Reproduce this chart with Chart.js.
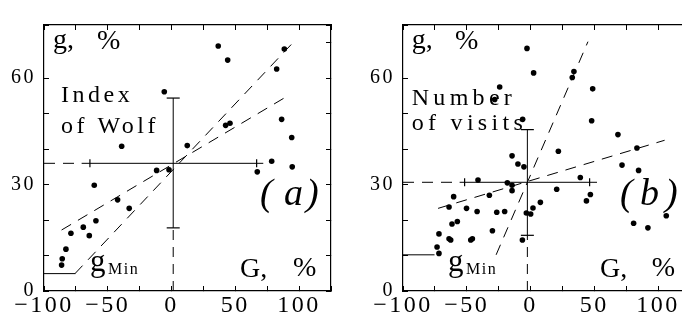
<!DOCTYPE html>
<html><head><meta charset="utf-8">
<script src="https://cdn.jsdelivr.net/npm/chart.js@4.4.1/dist/chart.umd.min.js"></script>
<style>
html,body{margin:0;padding:0;background:#fff;overflow:hidden;width:682px;height:324px;}
#wrap{position:relative;width:682px;height:324px;overflow:hidden;background:#fff;}
canvas{position:absolute;top:0;}
#ca{left:0;} #cb{left:359px;}
</style></head><body>
<div id="wrap"><canvas id="ca" width="340" height="324"></canvas><canvas id="cb" width="340" height="324"></canvas></div>
<script>
// ---- axes ----
const xRange = [-100, 125];
const yRange = [0, 75];
const xTickStep = 25;
const yTickStep = 10;
const xLabelValues = [-100, -50, 0, 50, 100];
const yLabelValues = [0, 30, 60];

// ---- panel (a): Index of Wolf ----
const wolfG = [36.6,44.0,88.4,82.4,-5.7,86.3,42.4,45.8,94.2,-39.1,12.3,78.5,94.6,-11.7,-2.0,67.2,-60.6,-42.3,-33.2,-59.3,-69.2,-78.9,-64.5,-82.8,-85.7,-86.2];
const wolfg = [69.1,65.1,68.2,62.6,56.2,48.4,46.7,47.3,43.3,40.8,41.0,36.6,35.0,34.0,34.2,33.6,29.8,25.7,23.3,19.8,18.0,16.3,15.6,11.8,9.1,7.3];
const wolfSteepG = [-75.7, 96.7];
const wolfSteepg = [4.9, 70.6];
const wolfShallowG = [-86.2, 91.5];
const wolfShallowg = [17.2, 55.1];
const wolfMeanG = 1.3;
const wolfMeang = 36.0;
const wolfSpreadG = [-70.5, 71.9];
const wolfCapsG = [-64.0, 66.7];
const wolfSpreadg = [17.8, 54.4];
const wolfgMin = 4.9;

// ---- panel (b): Number of visits ----
const visitsG = [-2.8,2.4,34.0,32.7,-24.2,-28.1,48.7,-6.2,47.9,68.5,83.4,21.8,-14.5,-9.9,-5.2,71.7,84.7,-41.2,-18.2,-14.5,-14.5,39.0,-60.3,-32.3,20.5,46.9,43.8,7.7,-63.9,-50.2,-41.9,-26.5,-20.3,1.9,-3.3,0.1,-57.4,-61.6,-29.9,-71.8,-63.9,-62.6,-45.6,-46.9,-6.4,-73.3,-71.8,80.8,92.0,106.4];
const visitsg = [68.4,61.5,61.9,60.2,57.5,54.0,57.0,48.4,48.0,44.1,40.3,39.4,38.1,35.8,35.0,35.5,34.0,31.3,30.5,29.8,28.3,32.0,26.6,27.0,28.7,27.2,25.4,25.0,23.7,23.3,22.4,22.2,22.4,23.4,22.0,21.7,19.6,18.9,17.0,16.1,14.7,14.4,14.7,14.4,14.4,12.4,10.6,19.1,17.8,21.2];
const visitsSteepG = [-27.0, 45.0];
const visitsSteepg = [10.2, 70.3];
const visitsShallowG = [-72.5, 105.1];
const visitsShallowg = [23.3, 42.5];
const visitsMeanG = -2.5;
const visitsMeang = 30.65;
const visitsSpreadG = [-55.6, 52.1];
const visitsCapsG = [-51.7, 46.3];
const visitsSpreadg = [15.7, 45.5];
const visitsgMin = 10.2;
const gMinEndG = -75.3;

const SERIF = "'Liberation Serif', 'Times New Roman', serif";
const fmt = v => (v < 0 ? '\u2212' + Math.abs(v) : String(v));

const annotPlugin = {
  id: 'annot',
  beforeDraw(chart) { chart.ctx.letterSpacing = '2.5px'; },
  afterDraw(chart, args, opts) {
    const ctx = chart.ctx;
    ctx.save();
    ctx.fillStyle = '#000';
    ctx.textAlign = 'left';
    ctx.textBaseline = 'alphabetic';
    for (const it of (opts.items || [])) {
      ctx.font = it.font;
      ctx.letterSpacing = it.ls || '0px';
      ctx.fillText(it.t, it.x, it.y);
    }
    ctx.restore();
  }
};

function pts(xs, ys) { return xs.map((x, i) => ({x, y: ys[i]})); }

function lineDs(data, dash) {
  return { data, showLine: true, borderColor: '#000', borderWidth: 1, borderDash: dash || [],
           pointRadius: 0, fill: false };
}

function makePanel(id, G, g, steepG, steepg, shalG, shalg, meanG, meang, spreadG, capsG, spreadg, gMin, texts) {
  const datasets = [
    { data: pts(G, g), pointRadius: 2.8, pointBackgroundColor: '#000', pointBorderWidth: 0, showLine: false },
    lineDs(pts(steepG, steepg), [11, 8]),
    lineDs(pts(shalG, shalg), [11, 8]),
    lineDs([{x: xRange[0], y: meang}, {x: spreadG[0], y: meang}], [11, 8]),
    lineDs([{x: spreadG[0], y: meang}, {x: spreadG[1], y: meang}]),
    lineDs([{x: meanG, y: spreadg[0]}, {x: meanG, y: spreadg[1]}]),
    lineDs([{x: meanG, y: yRange[0]}, {x: meanG, y: spreadg[0]}], [10, 7]),
    lineDs([{x: xRange[0], y: gMin}, {x: gMinEndG, y: gMin}]),
    { data: spreadg.map(v => ({x: meanG, y: v})), showLine: false, pointStyle: 'line', pointRadius: 6.5,
      pointBorderColor: '#000', pointBorderWidth: 1.2 },
    { data: capsG.map(v => ({x: v, y: meang})), showLine: false, pointStyle: 'line', pointRadius: 4,
      pointRotation: 90, pointBorderColor: '#000', pointBorderWidth: 1.2 }
  ];
  const gridOpts = { drawOnChartArea: false, drawTicks: true, tickLength: -5, color: '#000', lineWidth: 1 };
  const borderOpts = { display: true, color: '#000', width: 1.2 };
  return new Chart(document.getElementById(id), {
    type: 'scatter',
    data: { datasets },
    plugins: [annotPlugin],
    options: {
      responsive: false, animation: false, devicePixelRatio: 1, events: [],
      layout: { padding: { top: 4, right: 9, left: 0, bottom: 0 } },
      plugins: { legend: { display: false }, tooltip: { enabled: false }, annot: { items: texts } },
      scales: {
        x: { type: 'linear', position: 'bottom', min: xRange[0], max: xRange[1],
             ticks: { stepSize: xTickStep, autoSkip: false, maxRotation: 0, padding: 5, color: '#000',
                      font: { family: SERIF, size: 24 },
                      callback: v => xLabelValues.includes(v) ? fmt(v) : '' },
             grid: gridOpts, border: borderOpts, afterFit: s => { s.height = 33; } },
        y: { type: 'linear', position: 'left', min: yRange[0], max: yRange[1],
             ticks: { stepSize: yTickStep, autoSkip: false, padding: 13, color: '#000',
                      font: { family: SERIF, size: 20 },
                      callback: v => yLabelValues.includes(v) ? fmt(v) : '' },
             grid: gridOpts, border: borderOpts, afterFit: s => { s.width = 44; } },
        x2: { type: 'linear', axis: 'x', position: 'top', min: xRange[0], max: xRange[1],
              ticks: { stepSize: xTickStep, display: false },
              grid: gridOpts, border: borderOpts, afterFit: s => { s.height = 0; } },
        y2: { type: 'linear', axis: 'y', position: 'right', min: yRange[0], max: yRange[1],
              ticks: { stepSize: yTickStep, display: false },
              grid: gridOpts, border: borderOpts, afterFit: s => { s.width = 0; } }
      }
    }
  });
}

const big = "28px " + SERIF;
const mid = "24px " + SERIF;
const ital = "italic 38px " + SERIF;

makePanel('ca', wolfG, wolfg, wolfSteepG, wolfSteepg, wolfShallowG, wolfShallowg,
  wolfMeanG, wolfMeang, wolfSpreadG, wolfCapsG, wolfSpreadg, wolfgMin, [
    {t: 'g,', x: 53, y: 48, font: big},
    {t: '%', x: 97, y: 49, font: big},
    {t: 'Index', x: 61, y: 101.5, font: mid, ls: '3.5px'},
    {t: 'of Wolf', x: 61, y: 132.5, font: mid, ls: '3.5px'},
    {t: '(', x: 260, y: 205, font: ital},
    {t: 'a', x: 284, y: 205, font: ital},
    {t: ')', x: 306, y: 205, font: ital},
    {t: 'G,', x: 240, y: 277, font: big},
    {t: '%', x: 293, y: 276, font: big},
    {t: 'g', x: 90, y: 271, font: "31px " + SERIF},
    {t: 'Min', x: 108, y: 274, font: "16px " + SERIF, ls: '1.5px'}
  ]);

makePanel('cb', visitsG, visitsg, visitsSteepG, visitsSteepg, visitsShallowG, visitsShallowg,
  visitsMeanG, visitsMeang, visitsSpreadG, visitsCapsG, visitsSpreadg, visitsgMin, [
    {t: 'g,', x: 52.7, y: 48, font: big},
    {t: '%', x: 96, y: 49, font: big},
    {t: 'Number', x: 52.7, y: 105, font: mid, ls: '4.3px'},
    {t: 'of visits', x: 52.7, y: 130, font: mid, ls: '4.3px'},
    {t: '(', x: 261, y: 205, font: ital},
    {t: 'b', x: 281, y: 205, font: ital},
    {t: ')', x: 306, y: 205, font: ital},
    {t: 'G,', x: 241, y: 277, font: big},
    {t: '%', x: 292.7, y: 276, font: big},
    {t: 'g', x: 89, y: 271, font: "31px " + SERIF},
    {t: 'Min', x: 107, y: 274, font: "16px " + SERIF, ls: '1.5px'}
  ]);
</script>
</body></html>
